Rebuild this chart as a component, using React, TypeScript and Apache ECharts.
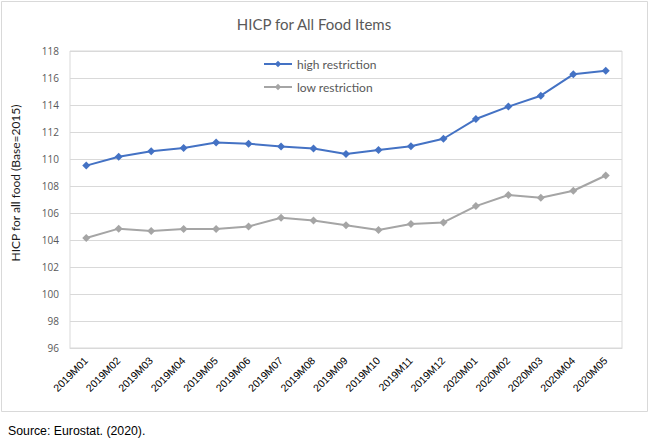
import React, { useEffect, useRef } from "react";
import * as echarts from "echarts";

const categories = [
  "2019M01", "2019M02", "2019M03", "2019M04", "2019M05", "2019M06",
  "2019M07", "2019M08", "2019M09", "2019M10", "2019M11", "2019M12",
  "2020M01", "2020M02", "2020M03", "2020M04", "2020M05",
];
const highRestriction = [
  109.51, 110.17, 110.57, 110.81, 111.23, 111.13, 110.93, 110.77, 110.37,
  110.67, 110.94, 111.5, 112.96, 113.88, 114.69, 116.27, 116.54,
];
const lowRestriction = [
  104.15, 104.84, 104.67, 104.81, 104.81, 105.0, 105.65, 105.45, 105.1,
  104.74, 105.18, 105.3, 106.51, 107.33, 107.13, 107.65, 108.78,
];
const seriesNames = ["high restriction", "low restriction"];
const titleText = "HICP for All Food Items";
const yAxisName = "HICP for all food (Base=2015)";
const sourceText = "Source: Eurostat. (2020).";

export default function App() {
  const ref = useRef<HTMLDivElement>(null);
  useEffect(() => {
    if (!ref.current) return;
    const chart = echarts.init(ref.current, null, { renderer: "svg" });
    const font = "Lato, 'Open Sans', sans-serif";
    const arial = "'Liberation Sans', Arial, sans-serif";
    chart.setOption({
      animation: false,
      backgroundColor: "#ffffff",
      title: {
        text: titleText,
        left: 314,
        textAlign: "center",
        top: 16,
        padding: 0,
        textStyle: { color: "#595959", fontSize: 15, fontWeight: "normal", fontFamily: font },
      },
      legend: {
        orient: "vertical",
        left: 263,
        top: 58,
        padding: 0,
        itemWidth: 28,
        itemHeight: 8,
        itemGap: 11,
        data: seriesNames,
        textStyle: { color: "#595959", fontSize: 12, fontFamily: font },
      },
      grid: { left: 70, right: 29, top: 51, bottom: 91, show: true, borderColor: "#d9d9d9", borderWidth: 1 },
      xAxis: {
        type: "category",
        data: categories,
        boundaryGap: true,
        axisLine: { lineStyle: { color: "#d9d9d9" } },
        axisTick: { show: false },
        axisLabel: {
          rotate: 45,
          interval: 0,
          color: "#000000",
          fontSize: 10.5,
          fontFamily: arial,
          margin: 11,
        },
      },
      yAxis: {
        type: "value",
        min: 96,
        max: 118,
        interval: 2,
        axisLine: { show: false },
        axisTick: { show: false },
        axisLabel: { color: "#595959", fontSize: 10, fontFamily: "'Open Sans', sans-serif", margin: 11 },
        splitLine: { lineStyle: { color: "#d9d9d9" } },
      },
      series: [
        {
          name: seriesNames[0],
          type: "line",
          data: highRestriction,
          symbol: "diamond",
          symbolSize: 8,
          color: "#4472C4",
          lineStyle: { width: 2, color: "#4472C4" },
          itemStyle: { color: "#4472C4" },
        },
        {
          name: seriesNames[1],
          type: "line",
          data: lowRestriction,
          symbol: "diamond",
          symbolSize: 8,
          color: "#A5A5A5",
          lineStyle: { width: 2, color: "#A5A5A5" },
          itemStyle: { color: "#A5A5A5" },
        },
      ],
      graphic: [
        {
          type: "rect",
          shape: { x: 1.5, y: 1.5, width: 646, height: 410 },
          style: { fill: "none", stroke: "#d9d9d9", lineWidth: 1 },
          silent: true,
          z: -1,
        },
        {
          type: "text",
          x: 15,
          y: 183,
          rotation: Math.PI / 2,
          style: {
            text: yAxisName,
            fill: "#1a1a1a",
            fontSize: 12,
            fontFamily: font,
            align: "center",
            verticalAlign: "middle",
          },
        },
        {
          type: "text",
          left: 8,
          top: 425,
          style: {
            text: sourceText,
            fill: "#000000",
            fontSize: 12.3,
            fontFamily: arial,
          },
        },
      ],
    });
    return () => chart.dispose();
  }, []);
  return (
    <div
      ref={ref}
      style={{ position: "fixed", left: 0, top: 0, width: 651, height: 439 }}
    />
  );
}
